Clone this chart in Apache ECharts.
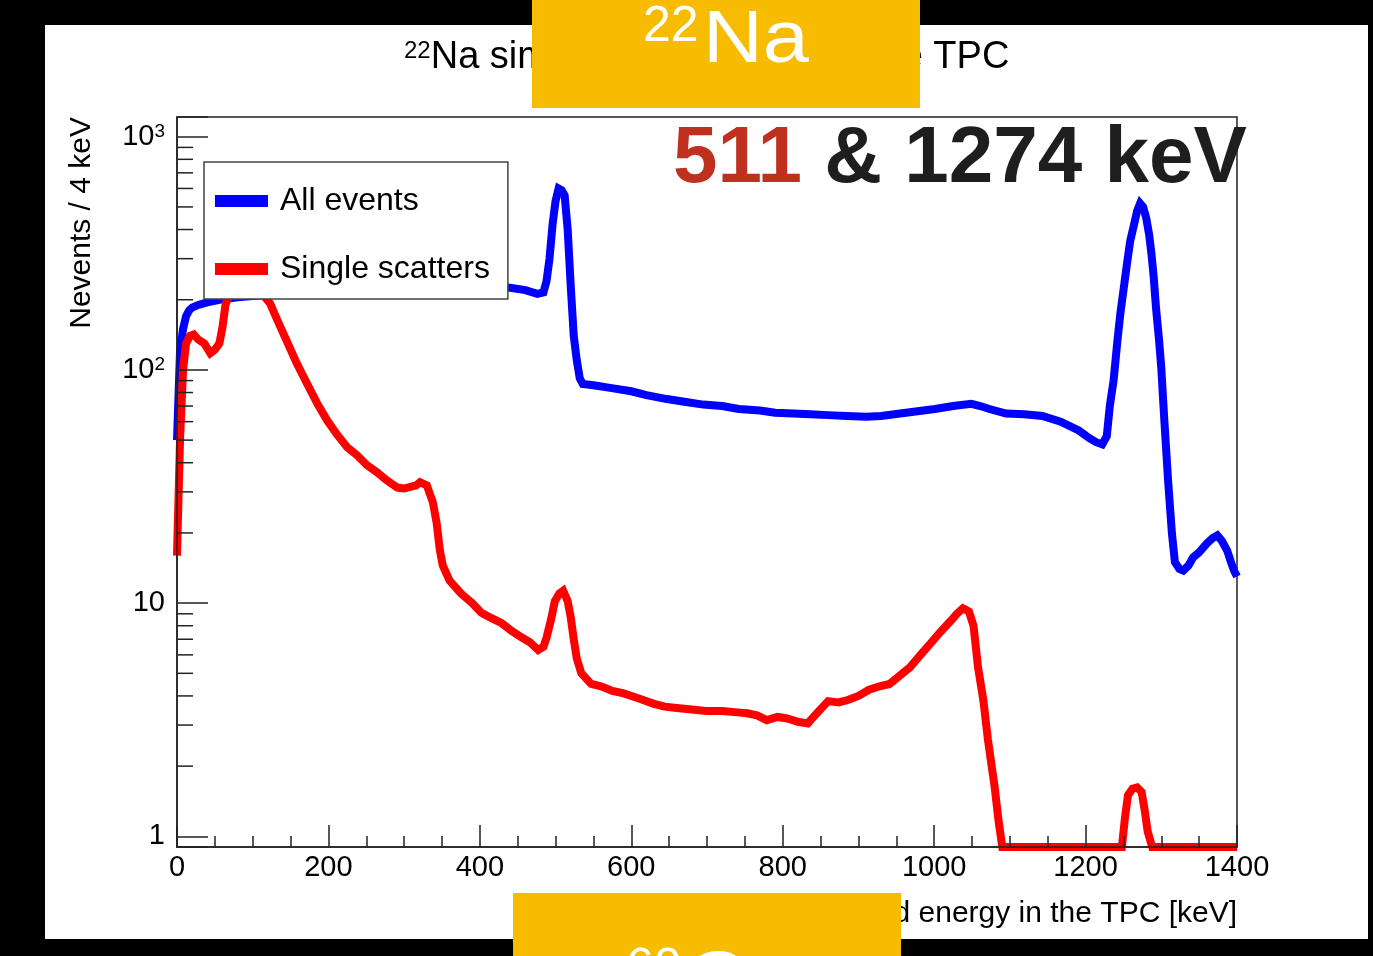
<!DOCTYPE html>
<html><head><meta charset="utf-8">
<script src="https://cdn.jsdelivr.net/npm/echarts@6/dist/echarts.min.js"></script>
<style>html,body{margin:0;padding:0;background:#000;}#c{width:1373px;height:956px;}</style>
</head><body><div id="c"></div>
<script>
// ---- Data ----
const energyAll = [0,4,8,12,16,20,28,40,56,80,120,160,200,240,280,320,360,400,440,460,476,484,488,492,496,500,504,508,512,516,520,524,528,532,536,550,570,600,620,647,670,695,720,742,770,790,814,836,860,884,910,930,955,978,1001,1025,1049,1061,1073,1095,1119,1143,1167,1191,1205,1214,1222,1228,1232,1237,1242,1246,1250,1255,1259,1264,1268,1272,1276,1280,1284,1287,1290,1293,1297,1300,1304,1309,1314,1318,1324,1329,1336,1342,1350,1360,1368,1374,1380,1387,1392,1396,1400];
const countsAll = [50,120,150,170,180,185,190,195,200,205,210,212,215,218,220,222,225,228,225,220,212,215,240,300,420,530,600,590,560,400,230,140,110,92,87,86,84,81,78,75,73,71,70,68,67,65.5,65,64.5,64,63.5,63,63.5,65,66.5,68,70,71.5,70,68,65,64.5,63.5,60,55,51,49,48,52,70,90,133,175,219,290,358,420,480,518,500,450,380,315,250,185,135,102,61,33.5,20,15,14,13.8,14.5,15.7,16.5,18,19,19.5,18.5,16.8,15,13.8,13];

const energySingle = [0,4,8,12,17,22,28,36,44,50,56,60,64,70,80,90,100,110,116,123,132,145,158,172,185,198,211,225,238,251,264,277,291,300,308,316,321,330,338,343,347,351,360,375,390,402,416,429,442,456,466,477,484,488,494,499,505,510,516,520,524,528,534,547,560,575,590,610,630,644,660,680,699,720,740,753,766,779,793,806,820,833,846,860,874,887,900,914,928,941,955,968,982,995,1008,1022,1030,1038,1046,1052,1058,1065,1071,1076,1080,1085,1090,1150,1200,1248,1252,1256,1262,1268,1274,1278,1282,1288,1340,1400];
const countsSingle = [16,50,100,130,140,142,135,130,118,122,130,152,190,215,245,260,250,215,205,193,165,133,107,87,72,61,53,46.5,43,39,36.4,33.6,31.3,31,31.5,32,33,32,27,22,17,14.5,12.5,11,10,9.1,8.6,8.2,7.6,7.1,6.8,6.3,6.5,7.1,8.5,10.2,11,11.3,10.2,8.7,7,5.8,5,4.5,4.4,4.2,4.1,3.9,3.7,3.6,3.55,3.5,3.45,3.45,3.4,3.37,3.3,3.15,3.25,3.2,3.1,3.05,3.4,3.8,3.75,3.85,4.0,4.25,4.4,4.5,4.9,5.3,6.0,6.7,7.5,8.4,9.0,9.5,9.2,8.0,5.3,3.83,2.6,2.0,1.62,1.17,0,0,0,0,1.2,1.5,1.6,1.62,1.55,1.3,1.05,0,0,0];

const seriesNames = ['All events', 'Single scatters'];
const xTickValues = [0,200,400,600,800,1000,1200,1400];
const yDecadeLabels = {1:'1', 10:'10', 100:'10{s|2}', 1000:'10{s|3}'};
const yMinorTicks = [2,3,4,5,6,7,8,9,20,30,40,50,60,70,80,90,200,300,400,500,600,700,800,900];
const titleText = '{s|22}Na simulated spectrum in the TPC';
const xAxisTitle = 'Deposited energy in the TPC [keV]';
const yAxisTitle = 'Nevents / 4 keV';

// ---- Chart ----
const X_MIN = 0, X_MAX = 1400, Y_MIN = 0.9, Y_MAX = 1215;
const FONT = 'Liberation Sans, Arial, sans-serif';
const floorVal = v => (v > 0 ? v : Y_MIN);
const chart = echarts.init(document.getElementById('c'), null, {renderer: 'canvas'});

function decadeLabel(v) {
  const l = Math.log10(v);
  const r = Math.round(l);
  if (Math.abs(l - r) > 1e-6) return '';
  const key = Math.pow(10, r);
  return yDecadeLabels[key] !== undefined ? yDecadeLabels[key] : '';
}

chart.setOption({
  backgroundColor: '#000',
  animation: false,
  title: {
    text: titleText,
    left: 399, top: 34,
    textStyle: {
      fontFamily: FONT, fontSize: 38, fontWeight: 'normal', color: '#000',
      rich: { s: { fontFamily: FONT, fontSize: 24, verticalAlign: 'top', color: '#000' } }
    }
  },
  grid: { left: 177, right: 136, top: 117, bottom: 109, show: true, borderColor: '#222', borderWidth: 1.5 },
  legend: {
    orient: 'vertical', left: 204, top: 162,
    padding: [23, 18, 14, 11], itemGap: 36,
    itemWidth: 53, itemHeight: 12, icon: 'rect',
    backgroundColor: '#fff', borderColor: '#444', borderWidth: 1.5, borderRadius: 0,
    textStyle: { fontFamily: FONT, fontSize: 32, color: '#000', padding: [0,0,0,7] },
    data: seriesNames, z: 10
  },
  xAxis: {
    type: 'value', min: X_MIN, max: X_MAX, interval: 200, z: 6,
    name: xAxisTitle, nameLocation: 'end', nameGap: 0,
    nameTextStyle: { fontFamily: FONT, fontSize: 30, color: '#000', align: 'right', verticalAlign: 'top', padding: [52, 0, 0, 0] },
    axisLine: { show: true, lineStyle: { color: '#222', width: 1.5 } },
    axisTick: { show: true, inside: true, length: 22, lineStyle: { color: '#222', width: 1.5 } },
    minorTick: { show: true, splitNumber: 4, length: 11, lineStyle: { color: '#222', width: 1.5 } },
    axisLabel: { fontFamily: FONT, fontSize: 29, color: '#000', margin: 6,
      formatter: v => (xTickValues.indexOf(v) >= 0 ? String(v) : '') },
    splitLine: { show: false }
  },
  yAxis: {
    type: 'log', logBase: 10, min: Y_MIN, max: Y_MAX, z: 6,
    name: yAxisTitle, nameLocation: 'end', nameGap: 0, nameRotate: 90,
    nameTextStyle: { fontFamily: FONT, fontSize: 30, color: '#000', align: 'right', verticalAlign: 'bottom', padding: [0, 0, 80, 0] },
    axisLine: { show: true, lineStyle: { color: '#222', width: 1.5 } },
    axisTick: { show: true, inside: true, length: 31, lineStyle: { color: '#222', width: 1.5 } },
    axisLabel: { fontFamily: FONT, fontSize: 29, color: '#000', margin: 12,
      formatter: decadeLabel,
      rich: { s: { fontFamily: FONT, fontSize: 19, verticalAlign: 'top', color: '#000', padding: [0,0,10,0] } } },
    splitLine: { show: false }
  },
  series: [
    {
      name: seriesNames[0], type: 'line', showSymbol: false, clip: false, z: 3,
      color: '#0000ff',
      lineStyle: { color: '#0000ff', width: 8, join: 'miter' },
      data: energyAll.map((e, i) => [e, floorVal(countsAll[i])])
    },
    {
      name: seriesNames[1], type: 'line', showSymbol: false, clip: false, z: 4,
      color: '#ff0000',
      lineStyle: { color: '#ff0000', width: 8, join: 'miter' },
      data: energySingle.map((e, i) => [e, floorVal(countsSingle[i])])
    },
    {
      name: 'minorYTicks', type: 'custom', silent: true, z: 5,
      data: yMinorTicks.map(v => [X_MIN, v]),
      renderItem: (params, api) => {
        const p = api.coord([api.value(0), api.value(1)]);
        return { type: 'line', shape: { x1: p[0], y1: p[1], x2: p[0] + 16, y2: p[1] }, style: { stroke: '#222', lineWidth: 1.5 } };
      }
    }
  ],
  graphic: [
    { type: 'rect', z: -100, shape: { x: 45, y: 25, width: 1323, height: 914 }, style: { fill: '#fff' } },
    { type: 'rect', z: 100, shape: { x: 532, y: 0, width: 388, height: 108 }, style: { fill: '#F7BB00' } },
    { type: 'text', z: 101, x: 643, y: 2,
      style: { text: '22', fill: '#fff', font: '50px Liberation Sans, Arial, sans-serif', verticalAlign: 'top' } },
    { type: 'text', z: 101, x: 703, y: 5, scaleX: 1.12,
      style: { text: 'Na', fill: '#fff', font: '74px Liberation Sans, Arial, sans-serif', verticalAlign: 'top' } },
    { type: 'rect', z: 100, shape: { x: 513, y: 893, width: 388, height: 63 }, style: { fill: '#F7BB00' } },
    { type: 'text', z: 101, x: 626, y: 944,
      style: { text: '60', fill: '#fff', font: '50px Liberation Sans, Arial, sans-serif', verticalAlign: 'top' } },
    { type: 'text', z: 101, x: 686, y: 946, scaleX: 1.12,
      style: { text: 'Co', fill: '#fff', font: '74px Liberation Sans, Arial, sans-serif', verticalAlign: 'top' } },
    { type: 'text', z: 102, left: 673, top: 120,
      style: { text: '{r|511}{k| & 1274 keV}',
        rich: { r: { fontFamily: FONT, fontSize: 80, fontWeight: 'bold', fill: '#C0301E' },
                k: { fontFamily: FONT, fontSize: 80, fontWeight: 'bold', fill: '#1E1E1E' } } } }
  ]
});
</script>
</body></html>
